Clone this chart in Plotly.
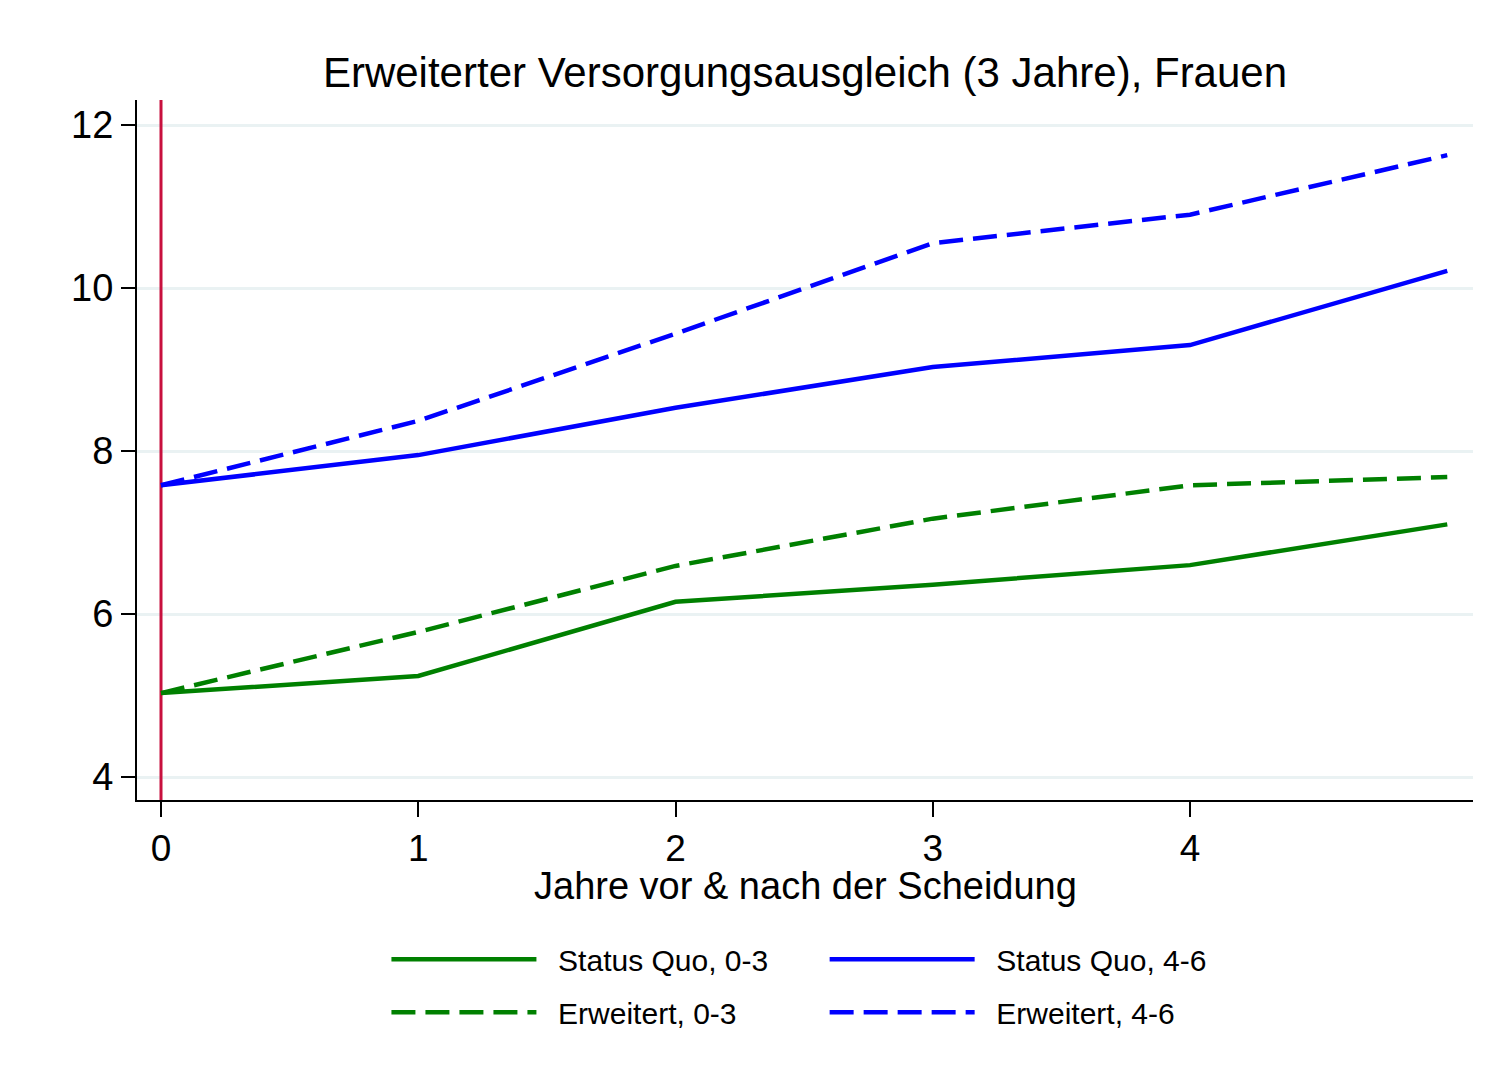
import plotly.graph_objects as go

jahre = [0, 1, 2, 3, 4, 5]
sq_03 = [5.03, 5.24, 6.15, 6.36, 6.60, 7.10]
erw_03 = [5.03, 5.78, 6.59, 7.17, 7.58, 7.68]
sq_46 = [7.58, 7.95, 8.53, 9.03, 9.30, 10.21]
erw_46 = [7.58, 8.37, 9.44, 10.55, 10.90, 11.63]
x_ticks = [0, 1, 2, 3, 4]
y_ticks = [4, 6, 8, 10, 12]

GREEN = "#008000"
BLUE = "#0000ff"
FONT = "Arial, Liberation Sans, sans-serif"
PAD = "\u00a0\u00a0"

fig = go.Figure()

# vertical marker at divorce year
fig.add_trace(go.Scatter(x=[0, 0], y=[3.718, 12.307], mode="lines",
                         line=dict(color="#c8103e", width=3), showlegend=False, hoverinfo="skip"))

fig.add_trace(go.Scatter(x=jahre, y=sq_03, mode="lines", name=PAD + "Status Quo, 0-3",
                         line=dict(color=GREEN, width=4.5), legend="legend", legendgroup="a"))
fig.add_trace(go.Scatter(x=jahre, y=erw_03, mode="lines", name=PAD + "Erweitert, 0-3",
                         line=dict(color=GREEN, width=4.5, dash="24px,10px"), legend="legend", legendgroup="b"))
fig.add_trace(go.Scatter(x=jahre, y=sq_46, mode="lines", name=PAD + "Status Quo, 4-6",
                         line=dict(color=BLUE, width=4.5), legend="legend2", legendgroup="c"))
fig.add_trace(go.Scatter(x=jahre, y=erw_46, mode="lines", name=PAD + "Erweitert, 4-6",
                         line=dict(color=BLUE, width=4.5, dash="24px,10px"), legend="legend2", legendgroup="d"))

leg = dict(font=dict(family=FONT, size=30, color="black"), bgcolor="rgba(0,0,0,0)",
           itemwidth=145, tracegroupgap=11, yanchor="top", xanchor="left", y=-0.1904)

fig.update_layout(
    width=1482, height=1082,
    margin=dict(l=129, r=17, t=92, b=290),
    paper_bgcolor="white", plot_bgcolor="white",
    font=dict(family=FONT, color="black"),
    title=dict(text="Erweiterter Versorgungsausgleich (3 Jahre), Frauen",
               font=dict(size=42, color="black"), x=0.5, xref="paper", y=0.9405, yanchor="middle"),
    legend=dict(leg, x=0.1867),
    legend2=dict(leg, x=0.5147),
    annotations=[dict(text="Jahre vor & nach der Scheidung", xref="paper", yref="paper",
                      x=0.5, y=-0.1229, xanchor="center", yanchor="middle", showarrow=False,
                      font=dict(size=38, color="black"))],
)

fig.update_xaxes(range=[-0.0933, 5.1], tickvals=x_ticks, ticks="outside", ticklen=15, tickwidth=2,
                 tickcolor="black", showline=True, linecolor="black", linewidth=2,
                 showgrid=False, zeroline=False, tickfont=dict(size=37))
fig.update_yaxes(range=[3.718, 12.307], tickvals=y_ticks, ticks="outside", ticklen=14, tickwidth=2,
                 tickcolor="black", showline=True, linecolor="black", linewidth=2,
                 showgrid=True, gridcolor="#eaf2f3", gridwidth=3, zeroline=False, tickfont=dict(size=38))

fig.write_html("out.html")
